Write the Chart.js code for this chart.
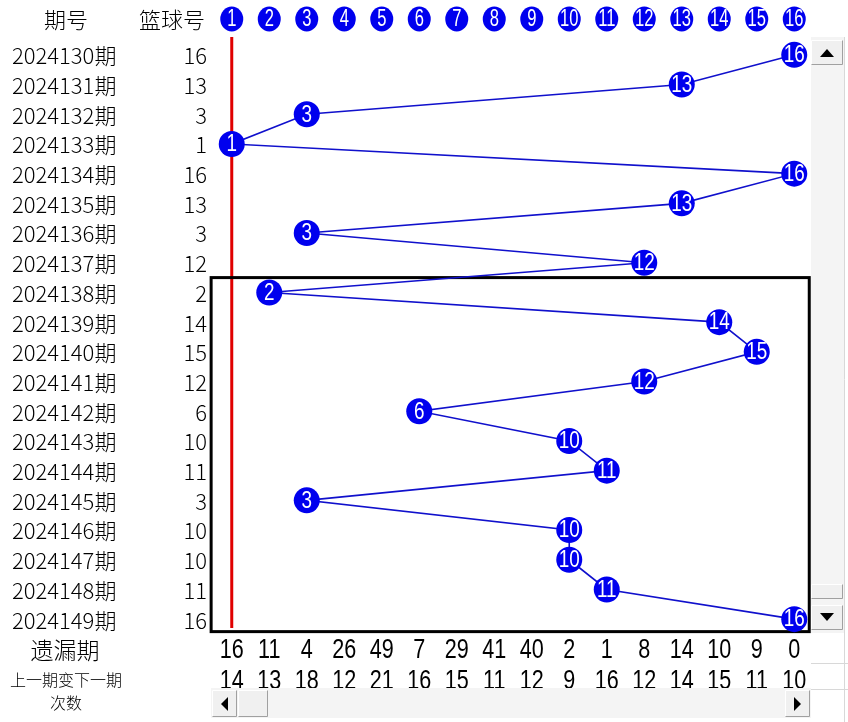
<!DOCTYPE html>
<html>
<head>
<meta charset="utf-8">
<script src="https://cdn.jsdelivr.net/npm/chart.js@4"></script>
<style>
  body { margin: 0; background: #fff; }
  #wrap { width: 848px; height: 722px; }
</style>
</head>
<body>
<div id="wrap"><canvas id="trend" width="848" height="722"></canvas></div>
<script>
const periods = [
  '2024130期', '2024131期', '2024132期', '2024133期', '2024134期',
  '2024135期', '2024136期', '2024137期', '2024138期', '2024139期',
  '2024140期', '2024141期', '2024142期', '2024143期', '2024144期',
  '2024145期', '2024146期', '2024147期', '2024148期', '2024149期',
];

const blueBalls = [16, 13, 3, 1, 16, 13, 3, 12, 2, 14, 15, 12, 6, 10, 11, 3, 10, 10, 11, 16];

const ballNumbers = [1, 2, 3, 4, 5, 6, 7, 8, 9, 10, 11, 12, 13, 14, 15, 16];

const missCounts = [16, 11, 4, 26, 49, 7, 29, 41, 40, 2, 1, 8, 14, 10, 9, 0];

const changeCounts = [14, 13, 18, 12, 21, 16, 15, 11, 12, 9, 16, 12, 14, 15, 11, 10];

const BLUE = '#0000ee';
const sans = '"Liberation Sans", Arial, sans-serif';
const cjk = '"Noto Sans CJK SC", "Noto Sans", sans-serif';

// squeezed text, the sheet uses a narrow font
function narrowText(ctx, text, x, y, size, sx) {
  ctx.save();
  ctx.translate(x, y);
  ctx.scale(sx, 1);
  ctx.font = size + 'px ' + sans;
  ctx.textAlign = 'center';
  ctx.textBaseline = 'middle';
  ctx.fillText(text, 0, 0);
  ctx.restore();
}

function bevelBox(ctx, x, y, w, h) {
  ctx.fillStyle = '#f0f0f0';
  ctx.fillRect(x, y, w, h);
  ctx.strokeStyle = '#ffffff';
  ctx.lineWidth = 1;
  ctx.beginPath();
  ctx.moveTo(x + 0.5, y + h - 0.5); ctx.lineTo(x + 0.5, y + 0.5); ctx.lineTo(x + w - 0.5, y + 0.5);
  ctx.stroke();
  ctx.strokeStyle = '#a0a0a0';
  ctx.beginPath();
  ctx.moveTo(x + w - 0.5, y + 0.5); ctx.lineTo(x + w - 0.5, y + h - 0.5); ctx.lineTo(x + 0.5, y + h - 0.5);
  ctx.stroke();
}

// grid text, red line and the black box, under the trend line
const backPlugin = {
  id: 'back',
  beforeDatasetsDraw(chart) {
    const ctx = chart.ctx;
    const xs = chart.scales.x, ys = chart.scales.y;
    ctx.save();

    // headers
    ctx.fillStyle = '#000';
    ctx.textAlign = 'center';
    ctx.textBaseline = 'middle';
    ctx.font = '300 22px ' + cjk;
    ctx.fillText('期号', 66, 20);
    ctx.fillText('篮球号', 172, 20);

    // header balls
    ballNumbers.forEach(n => {
      const px = xs.getPixelForValue(n);
      ctx.fillStyle = BLUE;
      ctx.beginPath();
      ctx.ellipse(px, 19, 11.5, 12.5, 0, 0, Math.PI * 2);
      ctx.fill();
      ctx.fillStyle = '#fff';
      narrowText(ctx, String(n), px, 20, 23, 0.72);
    });

    // period rows
    ctx.fillStyle = '#000';
    periods.forEach((p, i) => {
      const py = ys.getPixelForValue(i);
      ctx.font = '300 22px ' + cjk;
      ctx.textAlign = 'left';
      ctx.fillText(p, 12, py + 1);
      ctx.textAlign = 'right';
      ctx.fillText(String(blueBalls[i]), 207, py + 1);
    });

    // red line at ball 1
    const rx = xs.getPixelForValue(1);
    ctx.strokeStyle = '#e00000';
    ctx.lineWidth = 3;
    ctx.beginPath();
    ctx.moveTo(rx, 37);
    ctx.lineTo(rx, ys.getPixelForValue(19.3));
    ctx.stroke();

    // highlight box
    const bx0 = xs.getPixelForValue(0.45), bx1 = xs.getPixelForValue(16.4);
    const by0 = ys.getPixelForValue(7.5), by1 = ys.getPixelForValue(19.42);
    ctx.strokeStyle = '#000';
    ctx.lineWidth = 3;
    ctx.strokeRect(bx0, by0, bx1 - bx0, by1 - by0);

    // bottom rows
    ctx.fillStyle = '#000';
    ctx.textAlign = 'center';
    ctx.font = '300 23px ' + cjk;
    ctx.fillText('遗漏期', 65, 650);
    ctx.font = '300 16px ' + cjk;
    ctx.fillText('上一期变下一期', 66, 680);
    ctx.fillText('次数', 66, 703);
    ballNumbers.forEach((n, i) => {
      const px = xs.getPixelForValue(n);
      narrowText(ctx, String(missCounts[i]), px, 651, 27, 0.8);
      narrowText(ctx, String(changeCounts[i]), px, 682, 27, 0.8);
    });
    ctx.restore();
  },
  afterDatasetsDraw(chart) {
    const ctx = chart.ctx;
    const meta = chart.getDatasetMeta(0);
    ctx.save();
    ctx.fillStyle = '#fff';
    meta.data.forEach((pt, i) => {
      narrowText(ctx, String(blueBalls[i]), pt.x, pt.y + 1, 23, 0.82);
    });

    // scrollbars, spreadsheet style
    // vertical
    ctx.fillStyle = '#f4f4f4';
    ctx.fillRect(811, 37, 33, 596);
    ctx.strokeStyle = '#d8d8d8';
    ctx.lineWidth = 1;
    ctx.beginPath();
    ctx.moveTo(844.5, 37); ctx.lineTo(844.5, 722);
    ctx.moveTo(811, 663.5); ctx.lineTo(848, 663.5);
    ctx.moveTo(811, 689.5); ctx.lineTo(848, 689.5);
    ctx.stroke();
    bevelBox(ctx, 811, 40, 32, 25);
    bevelBox(ctx, 811, 584, 32, 15);
    bevelBox(ctx, 811, 605, 32, 25);
    ctx.fillStyle = '#000';
    ctx.beginPath();
    ctx.moveTo(820, 57); ctx.lineTo(834, 57); ctx.lineTo(827, 49); ctx.closePath(); ctx.fill();
    ctx.beginPath();
    ctx.moveTo(820, 613); ctx.lineTo(834, 613); ctx.lineTo(827, 621); ctx.closePath(); ctx.fill();

    // horizontal
    ctx.fillStyle = '#f4f4f4';
    ctx.fillRect(211, 688, 600, 30);
    bevelBox(ctx, 212, 690, 25, 27);
    bevelBox(ctx, 238, 690, 30, 27);
    bevelBox(ctx, 785, 690, 25, 27);
    ctx.fillStyle = '#000';
    ctx.beginPath();
    ctx.moveTo(228, 697); ctx.lineTo(228, 711); ctx.lineTo(221, 704); ctx.closePath(); ctx.fill();
    ctx.beginPath();
    ctx.moveTo(794, 697); ctx.lineTo(794, 711); ctx.lineTo(801, 704); ctx.closePath(); ctx.fill();
    ctx.restore();
  }
};

new Chart(document.getElementById('trend'), {
  type: 'scatter',
  plugins: [backPlugin],
  data: {
    datasets: [{
      data: blueBalls.map((b, i) => ({ x: b, y: i })),
      showLine: true,
      borderColor: '#1010cc',
      borderWidth: 1.6,
      backgroundColor: BLUE,
      pointBackgroundColor: BLUE,
      pointBorderWidth: 0,
      pointRadius: 13,
      pointHoverRadius: 13,
      tension: 0,
      clip: false,
    }]
  },
  options: {
    responsive: false,
    animation: false,
    events: [],
    layout: { padding: { left: 213, right: 35, top: 40, bottom: 88 } },
    scales: {
      x: { type: 'linear', min: 0.5, max: 16.5, display: false },
      y: { type: 'linear', min: -0.5, max: 19.5, reverse: true, display: false },
    },
    plugins: {
      legend: { display: false },
      tooltip: { enabled: false },
    }
  }
});
</script>
</body>
</html>
